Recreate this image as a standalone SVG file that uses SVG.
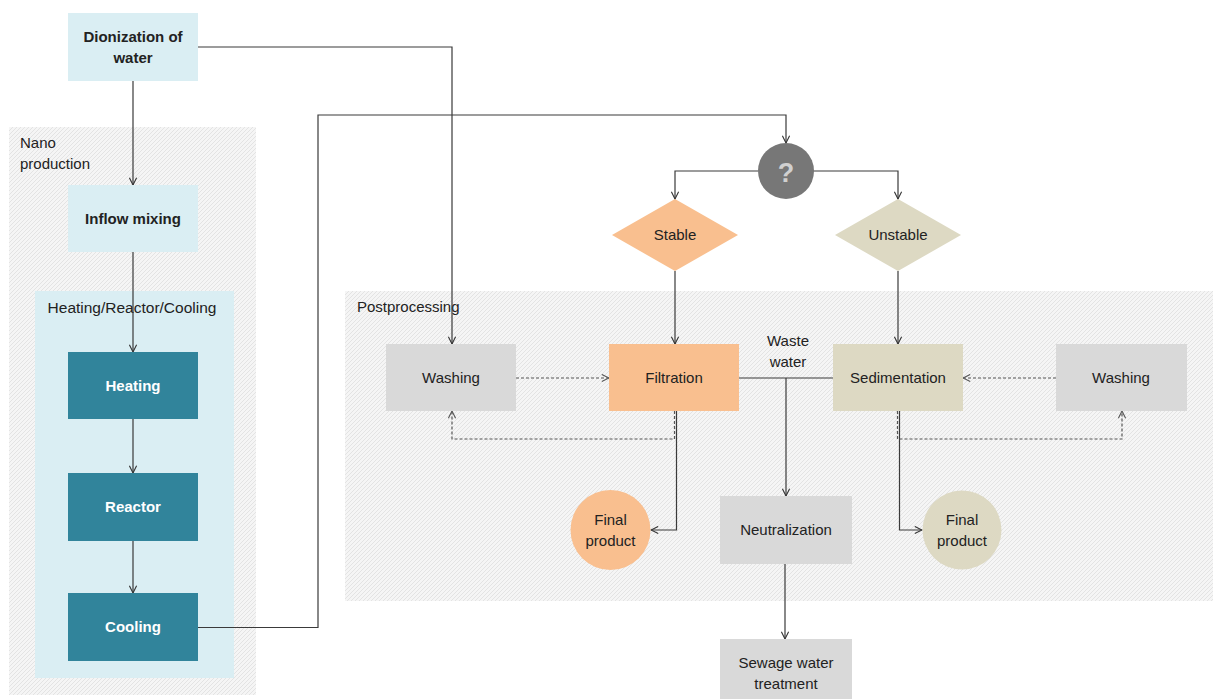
<svg xmlns="http://www.w3.org/2000/svg" width="1213" height="699" viewBox="0 0 1213 699">
<defs>
<pattern id="hatch" patternUnits="userSpaceOnUse" width="4" height="4">
<rect width="4" height="4" fill="#f5f5f5"/>
<path d="M-1,1 L1,-1 M0,4 L4,0 M3,5 L5,3" stroke="#dedede" stroke-width="0.8"/>
</pattern>
<marker id="arr" viewBox="0 0 10 10" refX="9" refY="5" markerWidth="9" markerHeight="9" markerUnits="userSpaceOnUse" orient="auto">
<path d="M1,1 L9,5 L1,9" fill="none" stroke="#333" stroke-width="1.2"/>
</marker>
<marker id="arrd" viewBox="0 0 10 10" refX="9" refY="5" markerWidth="9" markerHeight="9" markerUnits="userSpaceOnUse" orient="auto">
<path d="M1,1 L9,5 L1,9" fill="none" stroke="#555" stroke-width="1.2"/>
</marker>
</defs>
<style>
text{font-family:"Liberation Sans",Arial,sans-serif;fill:#222;font-size:15px}
.c{text-anchor:middle}
.b{font-weight:bold}
.w{fill:#fff;font-weight:bold}
.lb{fill:#daeef3}
.teal{fill:#31849b}
.gray{fill:#d9d9d9}
.org{fill:#f9bf8f}
.tan{fill:#ddd9c3}
.ln{fill:none;stroke:#3a3a3a;stroke-width:1.2}
.dl{fill:none;stroke:#555;stroke-width:1.2;stroke-dasharray:3 2}
</style>
<rect width="1213" height="699" fill="#fff"/>

<g id="nano-production">
<rect x="9" y="127" width="247" height="568" fill="url(#hatch)"/>
<text x="20" y="148">Nano</text>
<text x="20" y="169">production</text>
</g>
<g id="heating-reactor-cooling">
<rect x="35" y="291" width="199" height="387" class="lb"/>
<text x="132" y="313" class="c" style="font-size:15.5px">Heating/Reactor/Cooling</text>
</g>
<g id="postprocessing">
<rect x="345" y="291" width="868" height="310" fill="url(#hatch)"/>
<text x="357" y="312">Postprocessing</text>
</g>

<g id="connectors">
<path class="ln" d="M133,81 V185" marker-end="url(#arr)"/>
<path class="ln" d="M133,252 V352" marker-end="url(#arr)"/>
<path class="ln" d="M133,419 V473" marker-end="url(#arr)"/>
<path class="ln" d="M133,541 V593" marker-end="url(#arr)"/>
<path class="ln" d="M198,47 H452 V344" marker-end="url(#arr)"/>
<path class="ln" d="M198,627.5 H318 V115 H786 V143" marker-end="url(#arr)"/>
<path class="ln" d="M758,171 H675 V199" marker-end="url(#arr)"/>
<path class="ln" d="M813,171 H898 V199" marker-end="url(#arr)"/>
<path class="ln" d="M675,271 V344" marker-end="url(#arr)"/>
<path class="ln" d="M898,271 V344" marker-end="url(#arr)"/>
<path class="ln" d="M739,378 H833"/>
<path class="ln" d="M786,378 V496" marker-end="url(#arr)"/>
<path class="ln" d="M785,564 V639" marker-end="url(#arr)"/>
<path class="ln" d="M676.5,411 V530 H651" marker-end="url(#arr)"/>
<path class="ln" d="M899.5,411 V530 H922" marker-end="url(#arr)"/>
<path class="dl" d="M516,378 H609" marker-end="url(#arrd)"/>
<path class="dl" d="M1056,378 H963" marker-end="url(#arrd)"/>
<path class="dl" d="M674.5,411 V439 H452 V411" marker-end="url(#arrd)"/>
<path class="dl" d="M897.5,411 V439 H1122 V411" marker-end="url(#arrd)"/>
</g>

<g id="dionization">
<rect x="68" y="13" width="130" height="68" class="lb"/>
<text x="133" y="42" class="c b">Dionization of</text>
<text x="133" y="63" class="c b">water</text>
</g>
<g id="inflow-mixing">
<rect x="68" y="185" width="130" height="67" class="lb"/>
<text x="133" y="224" class="c b">Inflow mixing</text>
</g>
<g id="heating">
<rect x="68" y="352" width="130" height="67" class="teal"/>
<text x="133" y="391" class="c w">Heating</text>
</g>
<g id="reactor">
<rect x="68" y="473" width="130" height="68" class="teal"/>
<text x="133" y="512" class="c w">Reactor</text>
</g>
<g id="cooling">
<rect x="68" y="593" width="130" height="68" class="teal"/>
<text x="133" y="632" class="c w">Cooling</text>
</g>

<g id="question">
<circle cx="786" cy="171" r="28" fill="#777"/>
<text x="786" y="182" class="c b" style="font-size:27px;fill:#d0d0d0">?</text>
</g>
<g id="stable">
<polygon points="675,199 738,235 675,271 612,235" class="org"/>
<text x="675" y="240" class="c">Stable</text>
</g>
<g id="unstable">
<polygon points="898,199 961,235 898,271 835,235" class="tan"/>
<text x="898" y="240" class="c">Unstable</text>
</g>

<g id="washing-left">
<rect x="386" y="344" width="130" height="67" class="gray"/>
<text x="451" y="383" class="c">Washing</text>
</g>
<g id="filtration">
<rect x="609" y="344" width="130" height="67" class="org"/>
<text x="674" y="383" class="c">Filtration</text>
</g>
<g id="waste-water">
<text x="788" y="346" class="c">Waste</text>
<text x="788" y="367" class="c">water</text>
</g>
<g id="sedimentation">
<rect x="833" y="344" width="130" height="67" class="tan"/>
<text x="898" y="383" class="c">Sedimentation</text>
</g>
<g id="washing-right">
<rect x="1056" y="344" width="131" height="67" class="gray"/>
<text x="1121" y="383" class="c">Washing</text>
</g>
<g id="final-product-left">
<circle cx="610.5" cy="530" r="40" class="org"/>
<text x="610.5" y="525" class="c">Final</text>
<text x="610.5" y="546" class="c">product</text>
</g>
<g id="final-product-right">
<circle cx="962" cy="530" r="39.5" class="tan"/>
<text x="962" y="525" class="c">Final</text>
<text x="962" y="546" class="c">product</text>
</g>
<g id="neutralization">
<rect x="720" y="496" width="132" height="68" class="gray"/>
<text x="786" y="535" class="c">Neutralization</text>
</g>
<g id="sewage">
<rect x="720" y="639" width="132" height="62" class="gray"/>
<text x="786" y="668" class="c">Sewage water</text>
<text x="786" y="689" class="c">treatment</text>
</g>
</svg>
